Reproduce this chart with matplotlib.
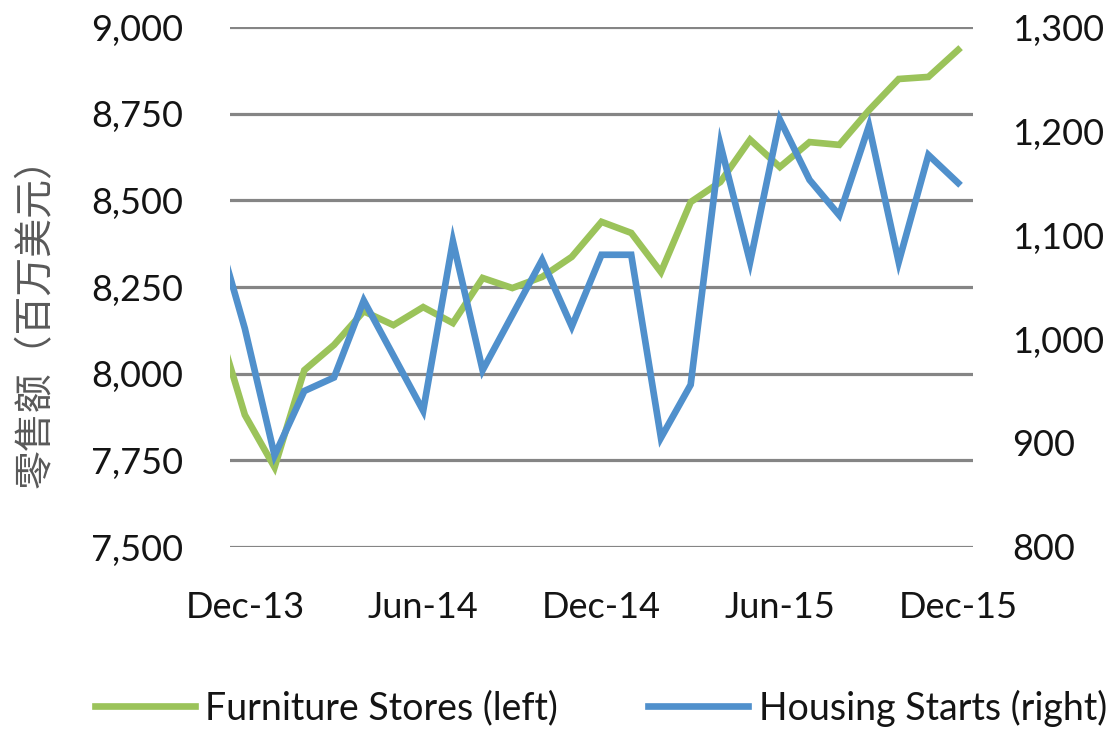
import numpy as np
import matplotlib
matplotlib.use("Agg")
import matplotlib.pyplot as plt

plt.rcParams['font.family'] = ['Lato', 'DejaVu Sans']

# months (Nov-13 sits just off the left edge, the line runs in from it)
months = ['Nov-13', 'Dec-13', 'Jan-14', 'Feb-14', 'Mar-14', 'Apr-14', 'May-14', 'Jun-14',
          'Jul-14', 'Aug-14', 'Sep-14', 'Oct-14', 'Nov-14', 'Dec-14', 'Jan-15', 'Feb-15',
          'Mar-15', 'Apr-15', 'May-15', 'Jun-15', 'Jul-15', 'Aug-15', 'Sep-15', 'Oct-15',
          'Nov-15', 'Dec-15']
furniture = [8166, 7881, 7730, 8010, 8083, 8180, 8140, 8192, 8146, 8276, 8247, 8279, 8337,
             8438, 8406, 8293, 8495, 8553, 8675, 8596, 8668, 8660, 8760, 8850, 8856, 8934]
housing = [1110, 1010, 888, 950, 963, 1037, 984, 931, 1094, 970, 1023, 1076, 1012,
           1081, 1081, 905, 956, 1187, 1074, 1211, 1153, 1119, 1205, 1074, 1177, 1150]
tick_labels = ['Dec-13', 'Jun-14', 'Dec-14', 'Jun-15', 'Dec-15']
left_ticks = [7500, 7750, 8000, 8250, 8500, 8750, 9000]
right_ticks = [800, 900, 1000, 1100, 1200, 1300]

GREEN = '#9BC35A'
BLUE = '#5090CC'
TXT = '#141414'

x = np.arange(len(months)) - 1

fig = plt.figure(figsize=(11.19, 7.29), dpi=100)
ax = fig.add_axes([230 / 1119, 1 - 547 / 729, 743 / 1119, 520 / 729])
ax2 = ax.twinx()

for y in left_ticks:
    ax.axhline(y, color='#858585', lw=2.3, zorder=1)

l1, = ax.plot(x, furniture, color=GREEN, lw=4.8, solid_joinstyle='miter', zorder=3,
              label='Furniture Stores (left)')
l2, = ax2.plot(x, housing, color=BLUE, lw=4.8, solid_joinstyle='miter', zorder=3,
               label='Housing Starts (right)')

ax.set_xlim(-0.5, 24.5)
ax.set_ylim(7500, 9000)
ax2.set_ylim(800, 1300)

ax.set_xticks([months.index(m) - 1 for m in tick_labels])
ax.set_xticklabels(tick_labels)
ax.set_yticks(left_ticks)
ax.set_yticklabels([f'{v:,}' for v in left_ticks])
ax2.set_yticks(right_ticks)
ax2.set_yticklabels([f'{v:,}' for v in right_ticks])

ax.tick_params(axis='x', length=0, pad=32, labelsize=26, labelcolor=TXT)
ax.tick_params(axis='y', length=0, pad=34, labelsize=26, labelcolor=TXT)
ax2.tick_params(axis='y', length=0, pad=28, labelsize=26, labelcolor=TXT)

for a in (ax, ax2):
    for s in a.spines.values():
        s.set_visible(False)

fig.text(36 / 1119, 1 - 313 / 729, '零售额（百万美元）', rotation=90, ha='center', va='center',
         fontsize=28, color='#595959', family=['Noto Sans CJK SC', 'DejaVu Sans'])

fig.legend(handles=[l1, l2], loc='center', bbox_to_anchor=(601 / 1119, 1 - 708 / 729),
           ncol=2, frameon=False, fontsize=27, handlelength=2.67, handletextpad=0.27,
           columnspacing=2.4, labelcolor=TXT)

fig.savefig('out.png', dpi=100)
